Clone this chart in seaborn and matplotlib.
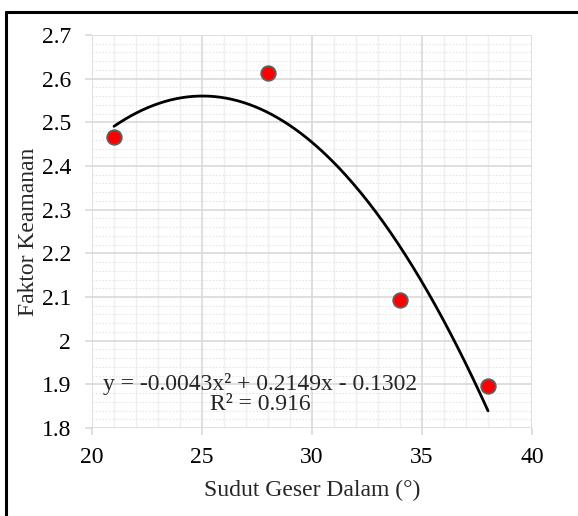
import numpy as np
import pandas as pd
import matplotlib
matplotlib.use("Agg")
import matplotlib.pyplot as plt
from matplotlib.lines import Line2D
from matplotlib.ticker import MultipleLocator
import seaborn as sns

# data
sudut = [21, 28, 34, 38]
faktor = [2.466, 2.614, 2.092, 1.896]
x_ticks = [20, 25, 30, 35, 40]
y_ticks = [1.8, 1.9, 2.0, 2.1, 2.2, 2.3, 2.4, 2.5, 2.6, 2.7]
y_tick_labels = ["1.8", "1.9", "2", "2.1", "2.2", "2.3", "2.4", "2.5", "2.6", "2.7"]
eq_text = "y = -0.0043x² + 0.2149x - 0.1302\nR² = 0.916"

sns.set_style("white")
plt.rcParams['font.family'] = ['Liberation Serif', 'DejaVu Serif']

df = pd.DataFrame({"x": sudut, "y": faktor})
coef = np.polyfit(df["x"], df["y"], 2)
xs = np.linspace(min(sudut), max(sudut), 200)
trend = pd.DataFrame({"x": xs, "y": np.polyval(coef, xs)})

fig = plt.figure(figsize=(5.78, 5.16), dpi=100)
ax = fig.add_axes([92/578, 1-428/516, 440/578, 393/516])

grid_major = "#d9d9d9"
ax.xaxis.set_minor_locator(MultipleLocator(1))
ax.yaxis.set_minor_locator(MultipleLocator(0.02))
ax.grid(which="minor", axis="x", color="#efefef", linewidth=1.0, linestyle="-", zorder=0)
ax.grid(which="minor", axis="y", color="#e6e6e6", linewidth=0.8, linestyle=(0, (1.5, 1.5)), zorder=0)
ax.grid(which="major", axis="both", color=grid_major, linewidth=1.2, zorder=0.5)
ax.set_axisbelow(True)

sns.lineplot(data=trend, x="x", y="y", ax=ax, color="black", linewidth=2.0, zorder=3)
sns.scatterplot(data=df, x="x", y="y", ax=ax, color="#ff0000", edgecolor="#606060",
                linewidth=1.3, s=110, zorder=4)

ax.set_xlim(20, 40)
ax.set_ylim(1.8, 2.7)
ax.set_xticks(x_ticks)
ax.set_yticks(y_ticks)
ax.set_yticklabels(y_tick_labels)
for s in ax.spines.values():
    s.set_visible(False)
ax.tick_params(axis="both", which="major", length=5, width=1.2, color=grid_major,
               labelsize=17, direction="out", labelcolor="black")
ax.tick_params(which="minor", length=0)
ax.tick_params(axis="x", bottom=True, pad=9)
ax.tick_params(axis="y", left=True, pad=10)

ax.set_xlabel("Sudut Geser Dalam (°)", fontsize=17, labelpad=8)
ax.set_ylabel("Faktor Keamanan", fontsize=17, labelpad=2)

ax.text(27.64, 1.8785, eq_text, ha="center", va="center", fontsize=17,
        linespacing=0.95, zorder=5)

# outer border (top and left)
fig.add_artist(Line2D([6/578, 1.0], [1-12/516, 1-12/516], transform=fig.transFigure,
                      color="black", linewidth=2.2))
fig.add_artist(Line2D([6/578, 6/578], [0, 1-12/516], transform=fig.transFigure,
                      color="black", linewidth=2.2))

fig.savefig("out.png", dpi=100)
